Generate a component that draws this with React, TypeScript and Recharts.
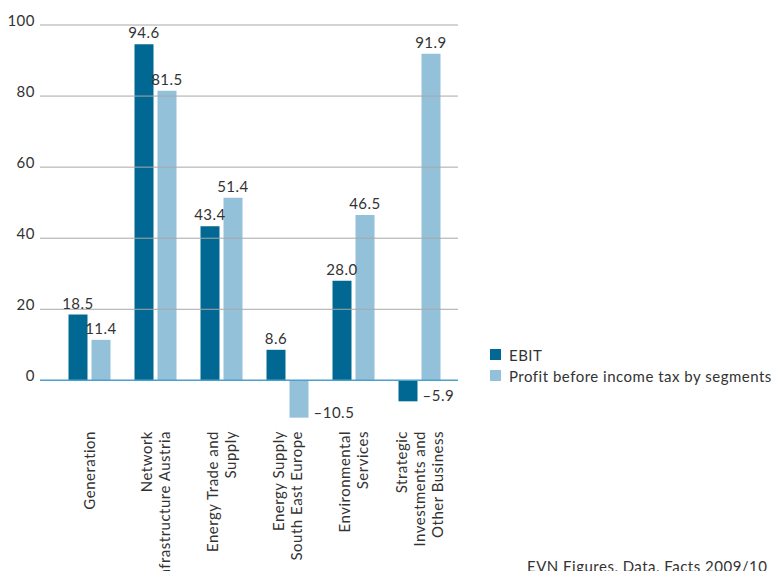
import React from "react";
import {
  BarChart,
  Bar,
  XAxis,
  YAxis,
  ReferenceLine,
  LabelList,
} from "recharts";

const segments = [
  ["Generation"],
  ["Network", "Infrastructure Austria"],
  ["Energy Trade and", "Supply"],
  ["Energy Supply", "South East Europe"],
  ["Environmental", "Services"],
  ["Strategic", "Investments and", "Other Business"],
];
const ebit = [18.5, 94.6, 43.4, 8.6, 28.0, -5.9];
const profit = [11.4, 81.5, 51.4, -10.5, 46.5, 91.9];
const yTicks = [0, 20, 40, 60, 80, 100];

const DARK = "#006892";
const LIGHT = "#93c1da";
const FONT = "Lato, 'Noto Sans', sans-serif";
const TEXT = "#333";
const LS = 0.5;

const data = segments.map((lines, i) => ({
  name: lines.join(" "),
  lines,
  ebit: ebit[i],
  profit: profit[i],
}));

const fmt = (v: number) => (v < 0 ? "\u2013" + Math.abs(v).toFixed(1) : v.toFixed(1));

function ValueLabel(props: any) {
  const { x, y, width, height, value } = props;
  const top = Math.min(y, y + height);
  const bottom = Math.max(y, y + height);
  if (value < 0) {
    return (
      <text x={x + width + 5} y={bottom} fill={TEXT} fontSize={15} fontFamily={FONT} letterSpacing={LS}>
        {fmt(value)}
      </text>
    );
  }
  return (
    <text x={x + width / 2} y={top - 6} textAnchor="middle" fill={TEXT} fontSize={15} fontFamily={FONT} letterSpacing={LS}>
      {fmt(value)}
    </text>
  );
}

function CategoryTick(props: any) {
  const { x, y, index } = props;
  const lines: string[] = data[index]?.lines ?? [];
  const lh = 18;
  const n = lines.length;
  return (
    <g>
      {lines.map((t, i) => {
        const lx = x + (i - (n - 1) / 2) * lh + 5;
        return (
          <text
            key={i}
            x={lx}
            y={y}
            transform={`rotate(-90 ${lx} ${y})`}
            textAnchor="end"
            fill={TEXT}
            fontSize={15}
            fontFamily={FONT}
            letterSpacing={LS}
          >
            {t}
          </text>
        );
      })}
    </g>
  );
}

function ValueTick(props: any) {
  const { x, y, payload } = props;
  return (
    <text x={x} y={y + 1} textAnchor="end" fill={TEXT} fontSize={15} fontFamily={FONT} letterSpacing={LS}>
      {payload.value}
    </text>
  );
}

function LegendBox() {
  const items = [
    { label: "EBIT", color: DARK },
    { label: "Profit before income tax by segments", color: LIGHT },
  ];
  return (
    <div style={{ position: "absolute", left: 490, top: 344 }}>
      {items.map((it) => (
        <div key={it.label} style={{ display: "flex", alignItems: "center", height: 21 }}>
          <span style={{ width: 11, height: 11, background: it.color, marginRight: 8 }} />
          <span style={{ fontFamily: FONT, fontSize: 15, letterSpacing: LS, color: TEXT, whiteSpace: "nowrap" }}>
            {it.label}
          </span>
        </div>
      ))}
    </div>
  );
}

export default function App() {
  return (
    <div style={{ position: "absolute", left: 0, top: 0, width: 776, height: 571, overflow: "hidden", background: "#fff" }}>
      <BarChart
        width={776}
        height={571}
        data={data}
        margin={{ top: 25, right: 318, bottom: 118, left: 0 }}
        barGap={4}
        barSize={19}
      >
        <XAxis
          dataKey="name"
          height={30}
          axisLine={false}
          tickLine={false}
          interval={0}
          padding={{ left: 16.5, right: 5.5 }}
          tick={<CategoryTick />}
        />
        <YAxis
          width={40}
          domain={[-12, 100]}
          ticks={yTicks}
          axisLine={false}
          tickLine={false}
          tickSize={3}
          tick={<ValueTick />}
        />
        {yTicks.filter((t) => t !== 0).map((t) => (
          <ReferenceLine key={t} y={t} stroke="#a8a8a8" strokeWidth={1} />
        ))}
        <ReferenceLine y={0} stroke="#4f9fcb" strokeWidth={1.5} />
        <Bar dataKey="ebit" fill={DARK} isAnimationActive={false}>
          <LabelList dataKey="ebit" content={<ValueLabel />} />
        </Bar>
        <Bar dataKey="profit" fill={LIGHT} isAnimationActive={false}>
          <LabelList dataKey="profit" content={<ValueLabel />} />
        </Bar>
      </BarChart>
      <LegendBox />
      <div
        style={{
          position: "absolute",
          left: 527,
          top: 557,
          fontFamily: FONT,
          fontSize: 15,
          letterSpacing: LS,
          lineHeight: "18px",
          color: TEXT,
          whiteSpace: "nowrap",
        }}
      >
        EVN Figures, Data, Facts 2009/10
      </div>
    </div>
  );
}
